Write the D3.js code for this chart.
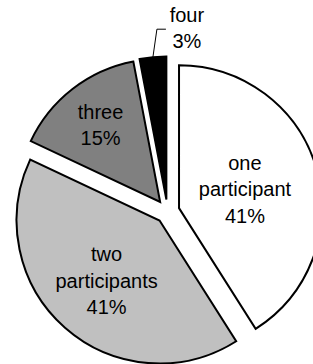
<!DOCTYPE html>
<html>
<head>
<meta charset="utf-8">
<script src="https://cdn.jsdelivr.net/npm/d3@7"></script>
<style>
  body { margin: 0; background: #fff; }
  svg { display: block; }
  text { font-family: Arial, "Liberation Sans", sans-serif; font-size: 20px; fill: #000; }
</style>
</head>
<body>
<svg id="chart" width="313" height="364"></svg>
<script>
const categories = ['one participant', 'two participants', 'three', 'four'];
const values = [41, 41, 15, 3];
const colors = ['#ffffff', '#c0c0c0', '#808080', '#000000'];

const w = 313;
const h = 364;
const r = 143;
const cx = 167.5;
const cy = 211.5;
const explode = 12;
const lineH = 26.5;
// how far out (fraction of r) each inside label sits; null = outside with leader
const labelPos = [0.48, 0.56, 0.68, null];

const svg = d3.select('#chart');
const total = d3.sum(values);

const pie = d3.pie().sort(null).value((d) => d);
const arcs = pie(values);
const arc = d3.arc().innerRadius(0).outerRadius(r);

const g = svg.append('g').attr('transform', `translate(${cx},${cy})`);

const slice = g.selectAll('g.slice')
  .data(arcs)
  .join('g')
  .attr('class', 'slice')
  .attr('transform', (d) => {
    const mid = (d.startAngle + d.endAngle) / 2;
    return `translate(${Math.sin(mid) * explode},${-Math.cos(mid) * explode})`;
  });

slice.append('path')
  .attr('d', arc)
  .attr('fill', (d, i) => colors[i])
  .attr('stroke', '#000')
  .attr('stroke-width', 2)
  .attr('stroke-linejoin', 'miter');

const pct = (v) => `${Math.round((v / total) * 100)}%`;

slice.each(function (d, i) {
  const s = d3.select(this);
  const lines = categories[i].split(' ').concat(pct(d.value));
  let x;
  let y;
  if (labelPos[i] != null) {
    const rr = r * labelPos[i];
    [x, y] = d3.arc().innerRadius(rr).outerRadius(rr).centroid(d);
  } else {
    const mid = (d.startAngle + d.endAngle) / 2;
    const p0 = [Math.sin(mid) * r, -Math.cos(mid) * r];
    const p1 = [p0[0] + 4, p0[1] - 28];
    const p2 = [p1[0] + 9, p1[1]];
    s.append('polyline')
      .attr('points', [p0, p1, p2].map((p) => p.join(',')).join(' '))
      .attr('fill', 'none')
      .attr('stroke', '#000')
      .attr('stroke-width', 1);
    x = p2[0] + 21;
    y = p2[1] - 1;
  }
  const t = s.append('text')
    .attr('text-anchor', 'middle')
    .attr('x', x)
    .attr('y', y);
  t.selectAll('tspan')
    .data(lines)
    .join('tspan')
    .attr('x', x)
    .attr('dy', (l, j) => (j === 0 ? (-(lines.length - 1) / 2) * lineH + 7 : lineH))
    .text((l) => l);
});
</script>
</body>
</html>
